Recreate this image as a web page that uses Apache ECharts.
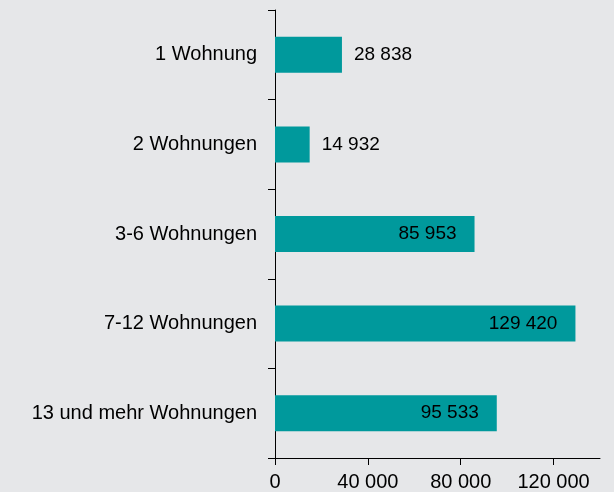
<!DOCTYPE html>
<html><head>
<meta charset="utf-8">
<title>Wohnungen</title>
<script src="https://cdn.jsdelivr.net/npm/echarts@6/dist/echarts.min.js"></script>
<style>
html, body { margin:0; padding:0; background:#e6e7e9; }
#main { width:614px; height:492px; }
</style>
</head>
<body>
<div id="main"></div>
<script type="text/javascript">
// Kategorien und Werte
var categories = ['1 Wohnung', '2 Wohnungen', '3-6 Wohnungen', '7-12 Wohnungen', '13 und mehr Wohnungen'];
var values = [28838, 14932, 85953, 129420, 95533];
var xTicks = [0, 40000, 80000, 120000];

function fmt(v) {
    return String(v).replace(/\B(?=(\d{3})+(?!\d))/g, ' ');
}

var myChart = echarts.init(document.getElementById('main'));

var seriesData = [];
for (var i = 0; i < values.length; i++) {
    var small = values[i] < 50000;
    seriesData.push({
        value: values[i],
        label: {
            position: small ? 'right' : 'insideRight',
            distance: small ? 12 : 18
        }
    });
}

var option = {
    backgroundColor: '#e6e7e9',
    textStyle: { fontFamily: 'Liberation Sans, Arial, sans-serif' },
    grid: { left: 275, right: 14, top: 10, bottom: 34 },
    xAxis: {
        type: 'value',
        min: 0,
        max: 140000,
        interval: 40000,
        axisLine: { show: true, lineStyle: { color: '#000', width: 1 } },
        axisTick: { show: true, length: 7, lineStyle: { color: '#000' }, customValues: xTicks },
        axisLabel: {
            color: '#000', fontSize: 20, margin: 14,
            customValues: xTicks,
            formatter: function (v) { return fmt(v); }
        },
        splitLine: { show: false }
    },
    yAxis: {
        type: 'category',
        inverse: true,
        data: categories,
        axisLine: { show: true, lineStyle: { color: '#000', width: 1 } },
        axisTick: { show: true, length: 7, lineStyle: { color: '#000' } },
        axisLabel: { color: '#000', fontSize: 20, margin: 18 }
    },
    series: [
        {
            type: 'bar',
            barWidth: 36,
            itemStyle: { color: '#00999c' },
            label: {
                show: true,
                color: '#000',
                fontSize: 19,
                formatter: function (p) { return fmt(p.value); }
            },
            data: seriesData
        }
    ]
};

myChart.setOption(option);
</script>
</body>
</html>
